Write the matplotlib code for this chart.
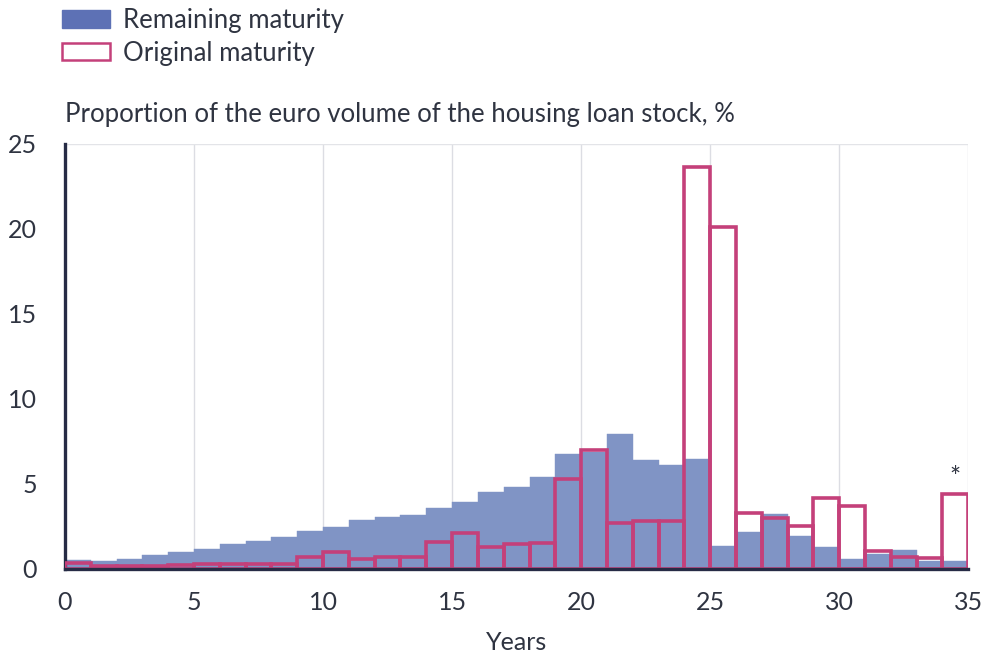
import numpy as np
import matplotlib
matplotlib.use("Agg")
import matplotlib.pyplot as plt
from matplotlib.patches import Patch

plt.rcParams["font.family"] = ["Lato", "DejaVu Sans"]

# one-year bins, 0-1 ... 34-35 years
years = np.arange(0, 35)
remaining = [0.55, 0.45, 0.6, 0.8, 1.0, 1.2, 1.45, 1.67, 1.87, 2.25,
             2.45, 2.9, 3.05, 3.15, 3.6, 3.93, 4.5, 4.8, 5.4, 6.78,
             6.9, 7.95, 6.4, 6.1, 6.45, 1.34, 2.2, 3.24, 1.96, 1.32,
             0.59, 0.88, 1.12, 0.45, 0.45]
original = [0.34, 0.2, 0.2, 0.2, 0.25, 0.3, 0.3, 0.3, 0.3, 0.73,
            0.98, 0.59, 0.69, 0.69, 1.6, 2.1, 1.28, 1.47, 1.53, 5.27,
            6.98, 2.69, 2.85, 2.85, 23.63, 20.1, 3.28, 2.99, 2.55, 4.19,
            3.7, 1.04, 0.73, 0.63, 4.38]

xticks = [0, 5, 10, 15, 20, 25, 30, 35]
yticks = [0, 5, 10, 15, 20, 25]

blue = "#8094c5"
blue_legend = "#5d71b5"
pink = "#c4407a"
navy = "#262b45"
text_c = "#2f3441"

fig = plt.figure(figsize=(9.84, 6.57), dpi=100)
ax = fig.add_axes([0.066, 0.134, 0.918, 0.647])

ax.bar(years, remaining, width=1.0, align="edge", color=blue,
       edgecolor=blue, linewidth=0.3, zorder=2)
ax.bar(years, original, width=1.0, align="edge", fill=False,
       edgecolor=pink, linewidth=2.6, zorder=3)

ax.text(34.5, original[-1] + 0.95, "*", ha="center", va="center",
        fontsize=19, color=text_c)

ax.set_xlim(0, 35)
ax.set_ylim(0, 25)
ax.set_xticks(xticks)
ax.set_yticks(yticks)
ax.tick_params(axis="both", length=0, labelsize=18, colors=text_c)
ax.tick_params(axis="x", pad=16)
ax.tick_params(axis="y", pad=20)

for x in xticks[1:]:
    ax.axvline(x, color="#dcdde3", linewidth=1.0, zorder=0)
ax.axhline(25, color="#e3e4e8", linewidth=1.0, zorder=0)

for s in ["top", "right"]:
    ax.spines[s].set_visible(False)
ax.spines["left"].set_color(navy)
ax.spines["left"].set_linewidth(2.4)
ax.spines["bottom"].set_color(navy)
ax.spines["bottom"].set_linewidth(2.4)
ax.spines["bottom"].set_zorder(4)

ax.set_xlabel("Years", fontsize=18, color=text_c, labelpad=12)

fig.text(0.066, 0.814, "Proportion of the euro volume of the housing loan stock, %",
         fontsize=18.5, color=text_c, ha="left", va="baseline")

handles = [Patch(facecolor=blue_legend, edgecolor=blue_legend, label="Remaining maturity"),
           Patch(facecolor="white", edgecolor=pink, linewidth=1.8, label="Original maturity")]
fig.legend(handles=handles, loc="upper left", bbox_to_anchor=(0.040, 1.023),
           frameon=False, fontsize=18.5, handlelength=1.85, handleheight=0.65,
           handletextpad=0.5, labelspacing=0.3, labelcolor=text_c)

fig.savefig("out.png", dpi=100)
